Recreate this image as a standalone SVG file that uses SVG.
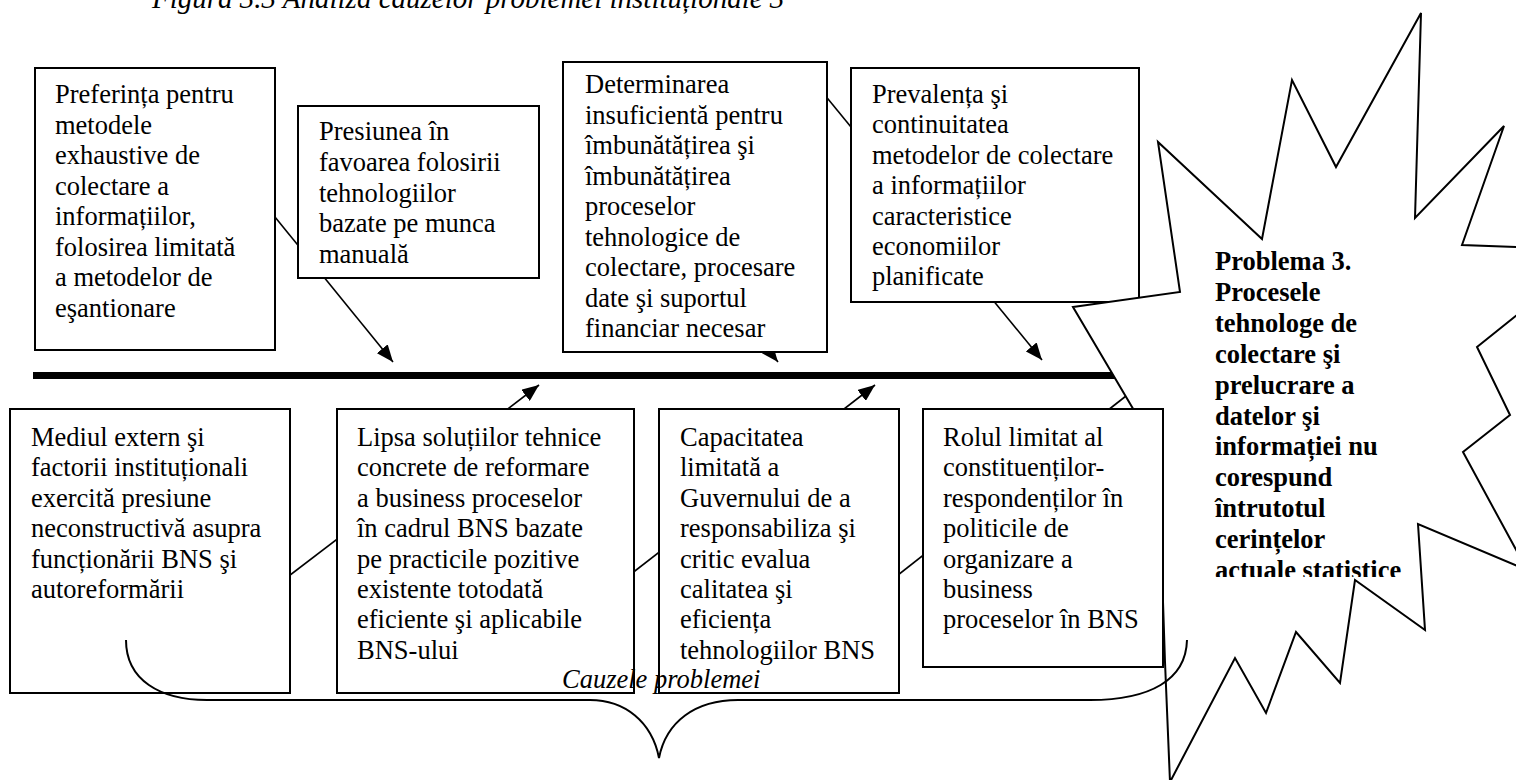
<svg xmlns="http://www.w3.org/2000/svg" width="1516" height="780" viewBox="0 0 1516 780">
<style>
  .box { fill: #ffffff; stroke: #000000; stroke-width: 2; }
  .t { font-family: "Liberation Serif", "Times New Roman", serif; font-size: 26.5px; fill: #000000; }
  .tb { font-family: "Liberation Serif", "Times New Roman", serif; font-size: 26.5px; font-weight: bold; fill: #000000; }
  .ti { font-family: "Liberation Serif", "Times New Roman", serif; font-size: 26.5px; font-style: italic; fill: #000000; }
  .conn { stroke: #000000; stroke-width: 1.6; fill: none; marker-end: url(#ah); }
  .star { fill: #ffffff; stroke: #000000; stroke-width: 2; stroke-linejoin: miter; }
  .brace { fill: none; stroke: #000000; stroke-width: 2; }
</style>
<defs>
  <marker id="ah" markerUnits="userSpaceOnUse" markerWidth="18" markerHeight="14" refX="17" refY="7" orient="auto">
    <path d="M0,0 L17,7 L0,14 z" fill="#000000"/>
  </marker>
  <clipPath id="starclip"><rect x="1180" y="230" width="300" height="347"/></clipPath>
</defs>
<rect width="1516" height="780" fill="#ffffff"/>

<text class="ti" x="152" y="8" style="font-size:29px">Figura 3.3 Analiza cauzelor problemei instituționale 3</text>

<g id="spine">
  <rect x="33" y="372" width="1087" height="7" fill="#000000"/>
</g>

<g id="connectors">
  <line class="conn" x1="240" y1="174" x2="393" y2="362"/>
  <line class="conn" x1="720" y1="290" x2="778" y2="362"/>
  <line class="conn" x1="810" y1="77" x2="1042" y2="360"/>
  <line class="conn" x1="260" y1="598" x2="539" y2="385"/>
  <line class="conn" x1="600" y1="598" x2="875" y2="385"/>
  <line class="conn" x1="870" y1="597" x2="1140" y2="385"/>
</g>

<g id="n1">
  <rect class="box" x="35" y="68" width="240" height="282"/>
  <text class="t">
    <tspan x="55" y="103">Preferința pentru</tspan>
    <tspan x="55" y="133.5">metodele</tspan>
    <tspan x="55" y="164">exhaustive de</tspan>
    <tspan x="55" y="194.5">colectare a</tspan>
    <tspan x="55" y="225">informațiilor,</tspan>
    <tspan x="55" y="255.5">folosirea limitată</tspan>
    <tspan x="55" y="286">a metodelor de</tspan>
    <tspan x="55" y="316.5">eşantionare</tspan>
  </text>
</g>

<g id="n2">
  <rect class="box" x="298" y="106" width="241" height="172"/>
  <text class="t">
    <tspan x="319" y="140">Presiunea în</tspan>
    <tspan x="319" y="170.8">favoarea folosirii</tspan>
    <tspan x="319" y="201.5">tehnologiilor</tspan>
    <tspan x="319" y="232.3">bazate pe munca</tspan>
    <tspan x="319" y="263">manuală</tspan>
  </text>
</g>

<g id="n3">
  <rect class="box" x="563" y="62" width="264" height="290"/>
  <text class="t">
    <tspan x="585" y="93">Determinarea</tspan>
    <tspan x="585" y="123.5">insuficientă pentru</tspan>
    <tspan x="585" y="154">îmbunătățirea şi</tspan>
    <tspan x="585" y="184.5">îmbunătățirea</tspan>
    <tspan x="585" y="215">proceselor</tspan>
    <tspan x="585" y="245.5">tehnologice de</tspan>
    <tspan x="585" y="276">colectare, procesare</tspan>
    <tspan x="585" y="306.5">date şi suportul</tspan>
    <tspan x="585" y="337">financiar necesar</tspan>
  </text>
</g>

<g id="n4">
  <rect class="box" x="851" y="68" width="288" height="234"/>
  <text class="t">
    <tspan x="872" y="103">Prevalența şi</tspan>
    <tspan x="872" y="133.4">continuitatea</tspan>
    <tspan x="872" y="163.8">metodelor de colectare</tspan>
    <tspan x="872" y="194.2">a informațiilor</tspan>
    <tspan x="872" y="224.6">caracteristice</tspan>
    <tspan x="872" y="255">economiilor</tspan>
    <tspan x="872" y="285.4">planificate</tspan>
  </text>
</g>

<g id="n5">
  <rect class="box" x="10" y="409" width="280" height="284"/>
  <text class="t">
    <tspan x="31" y="446">Mediul extern şi</tspan>
    <tspan x="31" y="476.4">factorii instituționali</tspan>
    <tspan x="31" y="506.8">exercită presiune</tspan>
    <tspan x="31" y="537.2">neconstructivă asupra</tspan>
    <tspan x="31" y="567.6">funcționării BNS şi</tspan>
    <tspan x="31" y="598">autoreformării</tspan>
  </text>
</g>

<g id="n6">
  <rect class="box" x="337" y="409" width="297" height="284"/>
  <text class="t">
    <tspan x="357" y="446">Lipsa soluțiilor tehnice</tspan>
    <tspan x="357" y="476.4">concrete de reformare</tspan>
    <tspan x="357" y="506.8">a business proceselor</tspan>
    <tspan x="357" y="537.2">în cadrul BNS bazate</tspan>
    <tspan x="357" y="567.6">pe practicile pozitive</tspan>
    <tspan x="357" y="598">existente totodată</tspan>
    <tspan x="357" y="628.4">eficiente şi aplicabile</tspan>
    <tspan x="357" y="658.8">BNS-ului</tspan>
  </text>
</g>

<g id="n7">
  <rect class="box" x="659" y="409" width="240" height="284"/>
  <text class="t">
    <tspan x="680" y="446">Capacitatea</tspan>
    <tspan x="680" y="476.4">limitată a</tspan>
    <tspan x="680" y="506.8">Guvernului de a</tspan>
    <tspan x="680" y="537.2">responsabiliza şi</tspan>
    <tspan x="680" y="567.6">critic evalua</tspan>
    <tspan x="680" y="598">calitatea şi</tspan>
    <tspan x="680" y="628.4">eficiența</tspan>
    <tspan x="680" y="658.8">tehnologiilor BNS</tspan>
  </text>
</g>

<g id="n9">
  <polygon class="star" points="1073,307 1180,292 1158,142 1262,239 1292,80 1336,167 1421,13 1415,218 1504,126 1462,245 1598,250 1477,347 1510,415 1463,452 1527,570 1418,524 1425,630 1355,580 1340,683 1296,632 1266,713 1235,658 1170,782 1165,662 1158,451"/>
  <g clip-path="url(#starclip)">
    <text class="tb">
      <tspan x="1215" y="270">Problema 3.</tspan>
      <tspan x="1215" y="300.9">Procesele</tspan>
      <tspan x="1215" y="331.8">tehnologe de</tspan>
      <tspan x="1215" y="362.7">colectare şi</tspan>
      <tspan x="1215" y="393.6">prelucrare a</tspan>
      <tspan x="1215" y="424.5">datelor şi</tspan>
      <tspan x="1215" y="455.4">informației nu</tspan>
      <tspan x="1215" y="486.3">corespund</tspan>
      <tspan x="1215" y="517.2">întrutotul</tspan>
      <tspan x="1215" y="548.1">cerințelor</tspan>
      <tspan x="1215" y="579">actuale statistice</tspan>
    </text>
  </g>
</g>

<g id="n8">
  <rect class="box" x="923" y="409" width="240" height="258"/>
  <text class="t">
    <tspan x="943" y="446">Rolul limitat al</tspan>
    <tspan x="943" y="476.4">constituenților-</tspan>
    <tspan x="943" y="506.8">respondenților în</tspan>
    <tspan x="943" y="537.2">politicile de</tspan>
    <tspan x="943" y="567.6">organizare a</tspan>
    <tspan x="943" y="598">business</tspan>
    <tspan x="943" y="628.4">proceselor în BNS</tspan>
  </text>
</g>

<g id="brace">
  <path class="brace" d="M126,640 C126,680 160,700 207,700 L590,700 C625,700 652,722 659,758 C666,722 695,700 738,700 L1090,700 C1150,700 1186,680 1187,640"/>
  <text class="ti" x="562" y="688">Cauzele problemei</text>
</g>
</svg>
